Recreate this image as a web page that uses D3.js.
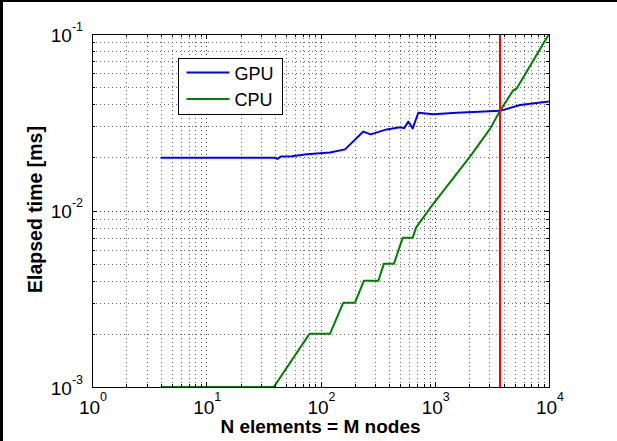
<!DOCTYPE html>
<html>
<head>
<meta charset="utf-8">
<script src="https://cdn.jsdelivr.net/npm/d3@7"></script>
<style>
  body { margin: 0; background: #fff; }
  svg { display: block; }
  text { font-family: "Liberation Sans", Arial, sans-serif; fill: #000; }
</style>
</head>
<body>
<div id="chart"></div>
<script>
// values
var gpuN    = [4, 40, 42, 45, 56, 76, 121, 164, 237, 275, 380, 497, 540, 587, 641, 718, 971, 1556, 3725, 5576, 9550, 10000];
var gpuTime = [0.0199, 0.0199, 0.0196, 0.0202, 0.0203, 0.0208, 0.0213, 0.0222, 0.0280, 0.0270, 0.0288, 0.0296, 0.0293, 0.0319, 0.0292, 0.0358, 0.0351, 0.0358, 0.0367, 0.0396, 0.0413, 0.0415];

var cpuN    = [4, 39, 80, 121, 158, 200, 240, 321, 359, 440, 524, 641, 686, 908, 2035, 3045, 3725, 4870, 5200, 10000];
var cpuTime = [0.001, 0.001, 0.002, 0.002, 0.003, 0.003, 0.004, 0.004, 0.005, 0.005, 0.007, 0.007, 0.008, 0.0103, 0.0202, 0.0290, 0.0367, 0.048, 0.049, 0.1];

var crossoverN = 3725;
var seriesNames = ["GPU", "CPU"];
var seriesColors = ["#0000ff", "#008000"];
var xTickExp = [0, 1, 2, 3, 4];
var yTickExp = [-3, -2, -1];

var margin = {top: 34, right: 68, bottom: 54, left: 92},
    width = 617 - margin.left - margin.right,
    height = 441 - margin.top - margin.bottom;

var x = d3.scaleLog().domain([1, 1e4]).range([0, width]);
var y = d3.scaleLog().domain([1e-3, 1e-1]).range([height, 0]);

var root = d3.select("#chart").append("svg")
    .attr("width", 617)
    .attr("height", 441);

root.append("rect").attr("width", 617).attr("height", 441).attr("fill", "#fff");
// black frame edges of the exported figure
root.append("rect").attr("x", 0).attr("y", 0).attr("width", 3).attr("height", 441).attr("fill", "#000");
root.append("rect").attr("x", 0).attr("y", 0).attr("width", 617).attr("height", 2).attr("fill", "#000");

var svg = root.append("g")
    .attr("transform", "translate(" + margin.left + "," + margin.top + ")");

svg.append("clipPath").attr("id", "plot-clip")
  .append("rect").attr("width", width).attr("height", height);

function px(v) { return Math.round(v) + 0.5; }

// all decade and sub-decade positions
function logTicks(lo, hi) {
  var out = [];
  for (var e = lo; e < hi; e++) {
    for (var k = 1; k <= 9; k++) out.push({v: k * Math.pow(10, e), major: k === 1});
  }
  out.push({v: Math.pow(10, hi), major: true});
  return out;
}
var xTicks = logTicks(0, 4);
var yTicks = logTicks(-3, -1);

// dotted grid
var grid = svg.append("g")
    .attr("stroke", "#333")
    .attr("stroke-width", 1)
    .attr("stroke-dasharray", "1,3");

grid.selectAll(".gx")
  .data(xTicks.filter(function(d) { return d.v > 1 && d.v < 1e4; }))
  .enter().append("line")
    .attr("x1", function(d) { return px(x(d.v)); })
    .attr("x2", function(d) { return px(x(d.v)); })
    .attr("y1", 0)
    .attr("y2", height)
    .attr("stroke-opacity", function(d) { return d.major ? 1 : 0.75; });

grid.selectAll(".gy")
  .data(yTicks.filter(function(d) { return d.v > 1e-3 && d.v < 1e-1; }))
  .enter().append("line")
    .attr("y1", function(d) { return px(y(d.v)); })
    .attr("y2", function(d) { return px(y(d.v)); })
    .attr("x1", 0)
    .attr("x2", width)
    .attr("stroke-opacity", function(d) { return d.major ? 1 : 0.75; });

// data lines
var line = d3.line()
    .x(function(d) { return x(d[0]); })
    .y(function(d) { return y(d[1]); });

var plot = svg.append("g").attr("clip-path", "url(#plot-clip)");

plot.append("path")
    .datum(d3.zip(gpuN, gpuTime))
    .attr("fill", "none")
    .attr("stroke", seriesColors[0])
    .attr("stroke-width", 2)
    .attr("stroke-linejoin", "round")
    .attr("d", line);

plot.append("path")
    .datum(d3.zip(cpuN, cpuTime))
    .attr("fill", "none")
    .attr("stroke", seriesColors[1])
    .attr("stroke-width", 2)
    .attr("stroke-linejoin", "round")
    .attr("d", line);

plot.append("line")
    .attr("x1", x(crossoverN))
    .attr("x2", x(crossoverN))
    .attr("y1", 0)
    .attr("y2", height)
    .attr("stroke", "#ff0000")
    .attr("stroke-width", 2);

// axes box with inward ticks on all four sides
var axes = svg.append("g").attr("stroke", "#000").attr("stroke-width", 1).attr("fill", "none");

axes.append("rect")
    .attr("x", 0.5).attr("y", 0.5)
    .attr("width", width).attr("height", height);

xTicks.forEach(function(d) {
  var len = d.major ? 5 : 3, xx = px(x(d.v));
  axes.append("line").attr("x1", xx).attr("x2", xx).attr("y1", height).attr("y2", height - len);
  axes.append("line").attr("x1", xx).attr("x2", xx).attr("y1", 0).attr("y2", len);
});
yTicks.forEach(function(d) {
  var len = d.major ? 5 : 3, yy = px(y(d.v));
  axes.append("line").attr("y1", yy).attr("y2", yy).attr("x1", 0).attr("x2", len);
  axes.append("line").attr("y1", yy).attr("y2", yy).attr("x1", width).attr("x2", width - len);
});

// tick labels 10^n
var xl = svg.selectAll(".xlab")
  .data(xTickExp)
  .enter().append("text")
    .attr("x", function(d) { return x(Math.pow(10, d)) + 1; })
    .attr("y", height + 27)
    .attr("text-anchor", "middle")
    .style("font-size", "19px");
xl.append("tspan").text("10");
xl.append("tspan").attr("dy", -13).style("font-size", "12.5px").text(function(d) { return d; });

var yl = svg.selectAll(".ylab")
  .data(yTickExp)
  .enter().append("text")
    .attr("x", -9)
    .attr("y", function(d) { return y(Math.pow(10, d)) + 7.5; })
    .attr("text-anchor", "end")
    .style("font-size", "19px");
yl.append("tspan").text("10");
yl.append("tspan").attr("dy", -11).style("font-size", "12.5px").text(function(d) { return d; });

// axis titles
svg.append("text")
    .attr("x", width / 2)
    .attr("y", height + 46)
    .attr("text-anchor", "middle")
    .style("font-size", "19px")
    .style("font-weight", "bold")
    .text("N elements = M nodes");

svg.append("text")
    .attr("transform", "rotate(-90)")
    .attr("x", -height / 2 + 1)
    .attr("y", -50)
    .attr("text-anchor", "middle")
    .style("font-size", "19.5px")
    .style("font-weight", "bold")
    .text("Elapsed time [ms]");

// legend
var legend = svg.append("g").attr("transform", "translate(86.5,24.5)");
legend.append("rect")
    .attr("width", 104).attr("height", 56)
    .attr("fill", "#fff").attr("stroke", "#000").attr("stroke-width", 1);

seriesNames.forEach(function(name, i) {
  var yy = 14 + i * 26.5;
  legend.append("line")
      .attr("x1", 8).attr("x2", 51)
      .attr("y1", yy).attr("y2", yy)
      .attr("stroke", seriesColors[i]).attr("stroke-width", 2);
  legend.append("text")
      .attr("x", 56).attr("y", yy + 7)
      .style("font-size", "18px")
      .text(name);
});
</script>
</body>
</html>
